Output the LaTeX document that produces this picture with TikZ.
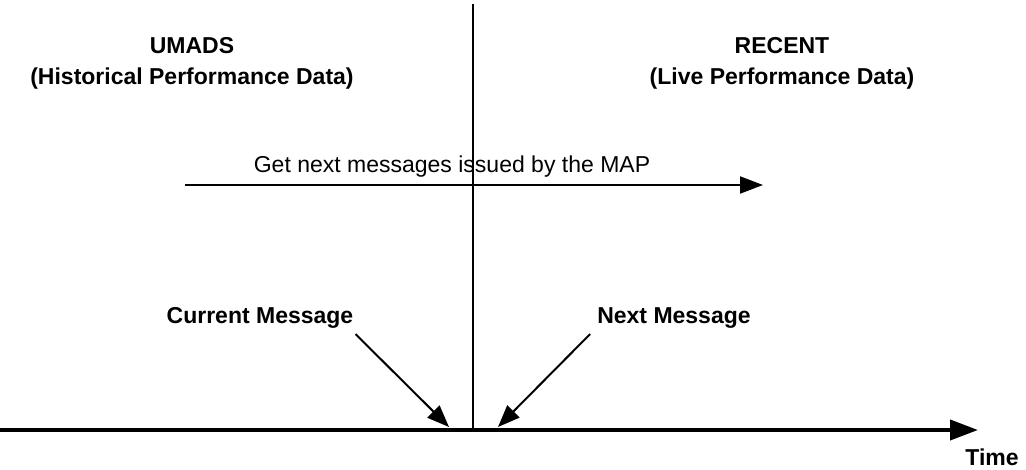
\documentclass[tikz,border=0pt]{standalone}
\usepackage{fontspec}
\setmainfont{Liberation Sans}
\usetikzlibrary{arrows.meta}

\begin{document}
\begin{tikzpicture}[x=1pt,y=-1pt,
   label/.style={inner sep=0pt,font=\fontsize{23}{31}\selectfont,align=center},
   head/.style={label,font=\fontsize{23}{31}\selectfont\bfseries},
   pointer/.style={line width=2pt,-{Triangle[length=22pt,width=17pt]}}]

   \useasboundingbox (0,0) rectangle (1026,469);

   % time axis and divider
   \coordinate (t0) at (0,430);
   \coordinate (t1) at (978,430);
   \coordinate (d0) at (473,4);
   \coordinate (d1) at (473,430);
   \draw[line width=2.7pt,dash pattern=on 27.5pt off 0.5pt] (d0) -- (d1);
   \draw[line width=4pt,-{Triangle[length=28pt,width=20pt]}] (t0) -- (t1);
   \node[head,anchor=base] (time) at (992,465) {Time};

   % the two sources
   \node[head,anchor=base] (umads) at (192,84) {UMADS\\(Historical Performance Data)};
   \node[head,anchor=base] (recent) at (782,84) {RECENT\\(Live Performance Data)};

   % fetching
   \coordinate (m0) at (185,185);
   \coordinate (m1) at (763,185);
   \draw[line width=2pt,-{Triangle[length=23pt,width=17pt]}] (m0) -- (m1);
   \node[label,anchor=base] (fetch) at (452,172) {Get next messages issued by the MAP};

   % messages
   \node[head,anchor=base] (cur) at (260,323) {Current Message};
   \node[head,anchor=base] (next) at (674,323) {Next Message};
   \coordinate (curtip) at (449,427);
   \coordinate (nexttip) at (498,427);
   \draw[pointer] ([shift={(2,6)}]cur.south east) -- (curtip);
   \draw[pointer] ([shift={(-7,6)}]next.south west) -- (nexttip);

\end{tikzpicture}
\end{document}
